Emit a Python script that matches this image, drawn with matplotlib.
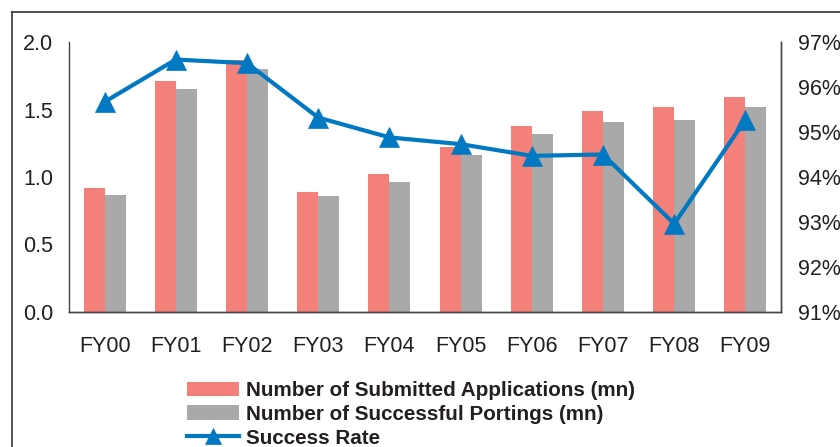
import matplotlib
matplotlib.use("Agg")
import matplotlib.pyplot as plt
from matplotlib.lines import Line2D
from matplotlib.ticker import FuncFormatter
import numpy as np

plt.rcParams['font.family'] = ['Liberation Sans', 'DejaVu Sans']

# values
years = ["FY00", "FY01", "FY02", "FY03", "FY04", "FY05", "FY06", "FY07", "FY08", "FY09"]
submitted = [0.92, 1.71, 1.87, 0.89, 1.02, 1.22, 1.38, 1.49, 1.52, 1.59]
ported = [0.87, 1.65, 1.80, 0.86, 0.96, 1.16, 1.32, 1.41, 1.42, 1.52]
successRate = [95.67, 96.61, 96.53, 95.32, 94.88, 94.73, 94.47, 94.50, 92.96, 95.27]

leftTicks = [0.0, 0.5, 1.0, 1.5, 2.0]
rightTicks = [91, 92, 93, 94, 95, 96, 97]

redColor = "#F4807A"
grayColor = "#A9A9A9"
blueColor = "#0079C2"
textColor = "#231F20"

W, H = 840, 447
fig = plt.figure(figsize=(W/100, H/100), dpi=100)
ax = fig.add_axes([69/W, 1 - 312/H, (781-69)/W, (312-42)/H])

x = np.arange(len(years))
w = 0.295
ax.bar(x - w/2, submitted, w, color=redColor, label="Number of Submitted Applications (mn)")
ax.bar(x + w/2, ported, w, color=grayColor, label="Number of Successful Portings (mn)")
ax.set_xlim(-0.5, len(years) - 0.5)
ax.set_ylim(0, 2.0)
ax.set_yticks(leftTicks)
ax.yaxis.set_major_formatter(FuncFormatter(lambda v, p: "%.1f" % v))
ax.set_xticks(x)
ax.set_xticklabels(years)

ax2 = ax.twinx()
ax2.plot(x, successRate, color=blueColor, lw=3, marker="^", markersize=15,
         markeredgewidth=0.5, label="Success Rate")
ax2.set_ylim(91, 97)
ax2.set_yticks(rightTicks)
ax2.set_yticklabels(["%d%%" % t for t in rightTicks])

for a in (ax, ax2):
    a.spines['top'].set_visible(False)
    for s in ('left', 'right', 'bottom'):
        a.spines[s].set_color("#444444")
        a.spines[s].set_linewidth(1.0)
    a.tick_params(length=0, labelsize=15.5, colors=textColor)
ax.tick_params(axis='y', pad=11.5)
ax.tick_params(axis='x', pad=17)
ax2.tick_params(axis='y', pad=12)
ax2.spines['left'].set_visible(False)

# outer frame, cut off on right and bottom
fig.add_artist(Line2D([12/W, 12/W], [0, 1 - 12/H], color="#333333", lw=1.2))
fig.add_artist(Line2D([12/W, 1], [1 - 12/H, 1 - 12/H], color="#333333", lw=1.2))

h1, l1 = ax.get_legend_handles_labels()
h2, l2 = ax2.get_legend_handles_labels()
leg = fig.legend(h1 + h2, l1 + l2, loc="upper left", bbox_to_anchor=(187/W, 1 - 381/H),
                 frameon=False, borderpad=0, borderaxespad=0, handlelength=2.5,
                 handletextpad=0.34, labelspacing=0.23, markerscale=0.8,
                 prop={'weight': 'bold', 'size': 14.9})
for t in leg.get_texts():
    t.set_color(textColor)

fig.savefig("out.png", dpi=100)
